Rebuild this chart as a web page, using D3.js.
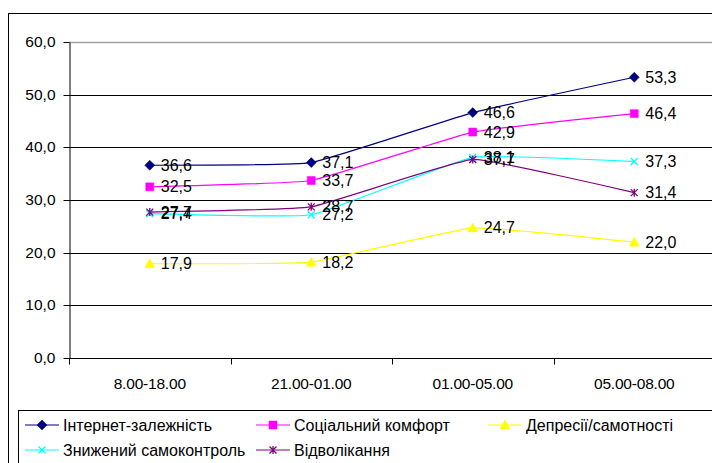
<!DOCTYPE html>
<html>
<head>
<meta charset="utf-8">
<script src="https://cdn.jsdelivr.net/npm/d3@7"></script>
<style>
  body { margin: 0; background: #fff; }
  svg { display: block; font-family: "Liberation Sans", Arial, sans-serif; }
</style>
</head>
<body>
<div id="chart"></div>
<script>
// data
const categories = ["8.00-18.00", "21.00-01.00", "01.00-05.00", "05.00-08.00"];
const seriesNames = ["Інтернет-залежність", "Соціальний комфорт", "Депресії/самотності", "Знижений самоконтроль", "Відволікання"];
const internet = [36.6, 37.1, 46.6, 53.3];
const comfort = [32.5, 33.7, 42.9, 46.4];
const depression = [17.9, 18.2, 24.7, 22.0];
const selfControl = [27.4, 27.2, 38.1, 37.3];
const distraction = [27.7, 28.7, 37.7, 31.4];
const yTicks = [0, 10, 20, 30, 40, 50, 60];

const seriesValues = [internet, comfort, depression, selfControl, distraction];
const colors = ["#000080", "#ff00ff", "#ffff00", "#00ffff", "#800080"];
const markers = ["diamond", "square", "triangle", "x", "star"];

const width = 712, height = 463;
const plot = {left: 69, right: 715, top: 42, bottom: 358};
const fs = 15.5;

const svg = d3.select("#chart").append("svg")
    .attr("width", width)
    .attr("height", height);

// outer frame (right/bottom edges fall outside the picture)
svg.append("rect")
    .attr("x", 8.5).attr("y", 13.5)
    .attr("width", 720).attr("height", 470)
    .attr("fill", "none").attr("stroke", "#000");

const x = d3.scaleBand().domain(categories).range([plot.left, plot.right]);
const y = d3.scaleLinear().domain([0, 60]).range([plot.bottom, plot.top]);
const fmt = d => d3.format(".1f")(d).replace(".", ",");

// gridlines
svg.append("g").selectAll("line")
    .data(yTicks.filter(d => d > 0))
    .enter().append("line")
    .attr("x1", plot.left).attr("x2", plot.right)
    .attr("y1", d => Math.round(y(d)) + 0.5).attr("y2", d => Math.round(y(d)) + 0.5)
    .attr("stroke", d => d === 60 ? "#a0a0a0" : "#000")
    .attr("stroke-width", d => d === 60 ? 1.5 : 1);

// y axis
const yAxis = svg.append("g")
    .attr("transform", `translate(${plot.left + 0.5},0)`)
    .call(d3.axisLeft(y).tickValues(yTicks).tickSize(6).tickSizeOuter(0).tickFormat(fmt));
yAxis.selectAll("text").attr("font-size", fs).attr("fill", "#000").attr("x", -14)
    .attr("font-family", "Liberation Sans, Arial, sans-serif");
yAxis.selectAll("line").attr("stroke", "#000");
yAxis.select(".domain").attr("stroke", "#000");
yAxis.selectAll(".tick").attr("transform", d => `translate(0,${Math.round(y(d)) + 0.5})`);

// x axis
const xAxis = svg.append("g")
    .attr("transform", `translate(0,${Math.round(y(0)) + 0.5})`);
xAxis.append("line")
    .attr("x1", plot.left).attr("x2", plot.right)
    .attr("stroke", "#000");
xAxis.selectAll(".xt")
    .data(categories)
    .enter().append("line")
    .attr("x1", d => Math.round(x(d)) + 0.5).attr("x2", d => Math.round(x(d)) + 0.5)
    .attr("y1", 0).attr("y2", 6)
    .attr("stroke", "#000");
xAxis.selectAll(".xl")
    .data(categories)
    .enter().append("text")
    .attr("x", d => x(d) + x.bandwidth() / 2)
    .attr("y", 30)
    .attr("text-anchor", "middle")
    .attr("font-size", fs)
    .attr("letter-spacing", -0.2)
    .text(d => d);

function markerPath(type) {
    if (type === "diamond") return "M0,-5L5,0L0,5L-5,0Z";
    if (type === "square") return "M-4,-4H4V4H-4Z";
    if (type === "triangle") return "M0,-5L5,4H-5Z";
    if (type === "x") return "M-3.5,-3.5L3.5,3.5M-3.5,3.5L3.5,-3.5";
    return "M-3.5,-3.5L3.5,3.5M-3.5,3.5L3.5,-3.5M0,-4V4";
}

function drawMarker(g, type, color) {
    const filled = type === "diamond" || type === "square" || type === "triangle";
    g.append("path")
        .attr("d", markerPath(type))
        .attr("fill", filled ? color : "none")
        .attr("stroke", color)
        .attr("stroke-width", filled ? 0.5 : 1.3);
}

const line = d3.line()
    .x((d, i) => x(categories[i]) + x.bandwidth() / 2)
    .y(d => y(d))
    .curve(d3.curveCardinal.tension(0.7));

// series
seriesValues.forEach((vals, s) => {
    const g = svg.append("g");
    g.append("path")
        .datum(vals)
        .attr("d", line)
        .attr("fill", "none")
        .attr("stroke", colors[s])
        .attr("stroke-width", 1.2);
    vals.forEach((v, i) => {
        const m = g.append("g")
            .attr("transform", `translate(${x(categories[i]) + x.bandwidth() / 2},${y(v)})`);
        drawMarker(m, markers[s], colors[s]);
    });
});

// data labels
seriesValues.forEach((vals, s) => {
    svg.append("g").selectAll("text")
        .data(vals)
        .enter().append("text")
        .attr("x", (d, i) => x(categories[i]) + x.bandwidth() / 2 + 11)
        .attr("y", d => y(d) + 5.5)
        .attr("font-size", 16)
        .attr("fill", "#000")
        .text(fmt);
});

// legend
svg.append("rect")
    .attr("x", 18.5).attr("y", 410.5)
    .attr("width", 700).attr("height", 80)
    .attr("fill", "#fff").attr("stroke", "#000");

const legendPos = [[25, 425], [256, 425], [488, 425], [25, 450], [256, 450]];
seriesNames.forEach((name, s) => {
    const [lx, ly] = legendPos[s];
    const g = svg.append("g").attr("transform", `translate(${lx},${ly})`);
    g.append("line")
        .attr("x1", 0).attr("x2", 34)
        .attr("stroke", colors[s]).attr("stroke-width", 1.2);
    const m = g.append("g").attr("transform", "translate(17,0)");
    drawMarker(m, markers[s], colors[s]);
    g.append("text")
        .attr("x", 38).attr("y", 5.5)
        .attr("font-size", 16)
        .text(name);
});
</script>
</body>
</html>
